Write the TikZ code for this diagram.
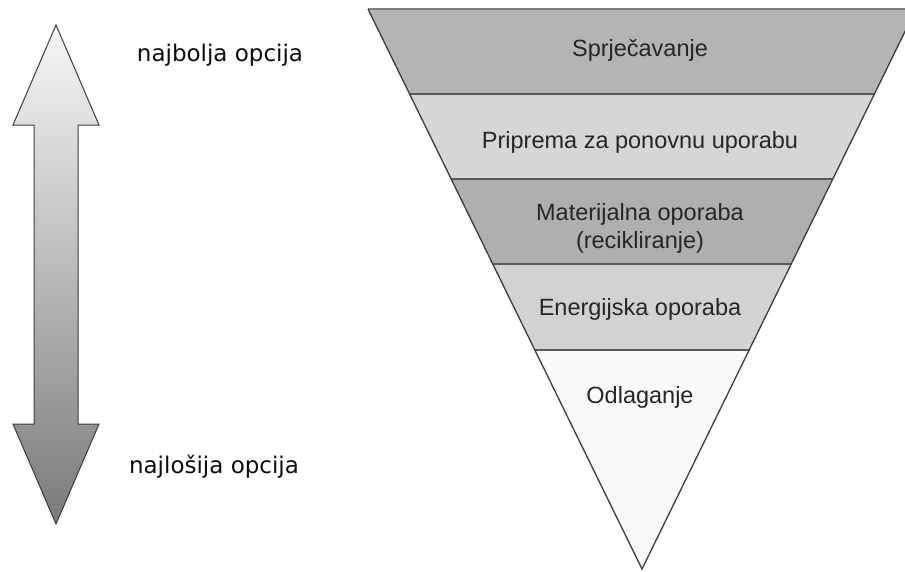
\documentclass[tikz,border=0pt]{standalone}
\usepackage{fontspec}
\setmainfont{Liberation Sans}
\newfontfamily\sidefont{DejaVu Sans}
\definecolor{darkband}{HTML}{B4B4B4}
\definecolor{lightband}{HTML}{D6D6D6}
\definecolor{lastband}{HTML}{FAFAFA}
\definecolor{edgegray}{HTML}{3C3C3C}
\begin{document}
\begin{tikzpicture}[x=1pt,y=-1pt,
  bandtext/.style={font=\fontsize{23.5}{28}\selectfont,text=black!85,align=center},
  sidetext/.style={font=\sidefont\fontsize{23}{28}\selectfont,text=black!95},
  bandline/.style={draw=black!65,line width=1.3pt}]
\useasboundingbox (0,0) rectangle (905,571);
\clip (0,0) rectangle (905,571);
% double arrow
\draw[draw=edgegray,line width=1pt,top color=white!97!black,bottom color=black!52]
  (56,25) -- (99,125) -- (78,125) -- (78,424) -- (99,424) -- (56,524)
  -- (13,424) -- (34,424) -- (34,125) -- (13,125) -- cycle;
\node[sidetext,anchor=base] (best) at (220,61) {najbolja opcija};
\node[sidetext,anchor=base] (worst) at (214,473) {najlošija opcija};
% funnel
\coordinate (tl) at (368,9);
\coordinate (tr) at (916,9);
\coordinate (apex) at (642,569);
\begin{scope}
  \clip (tl) -- (tr) -- (apex) -- cycle;
  \fill[darkband] (300,9) rectangle (920,94);
  \fill[lightband] (300,94) rectangle (920,179);
  \fill[darkband!97!black] (300,179) rectangle (920,264);
  \fill[lightband!98!black] (300,264) rectangle (920,350);
  \fill[lastband] (300,350) rectangle (920,575);
  \foreach \y in {94,179,264,350}
    \draw[bandline] (300,\y) -- (920,\y);
\end{scope}
\draw[draw=black!50,line width=1.6pt] (tl) -- (tr);
\draw[draw=edgegray,line width=1.3pt,line join=miter] (tr) -- (apex) -- (tl);
\node[bandtext,anchor=base] (prevent) at (640,56) {Sprječavanje};
\node[bandtext,anchor=base] (reuse) at (640,148) {Priprema za ponovnu uporabu};
\node[bandtext] (recycle) at (640,228) {Materijalna oporaba\\(recikliranje)};
\node[bandtext,anchor=base] (energy) at (640,315) {Energijska oporaba};
\node[bandtext,anchor=base] (disposal) at (640,403) {Odlaganje};
\end{tikzpicture}
\end{document}
